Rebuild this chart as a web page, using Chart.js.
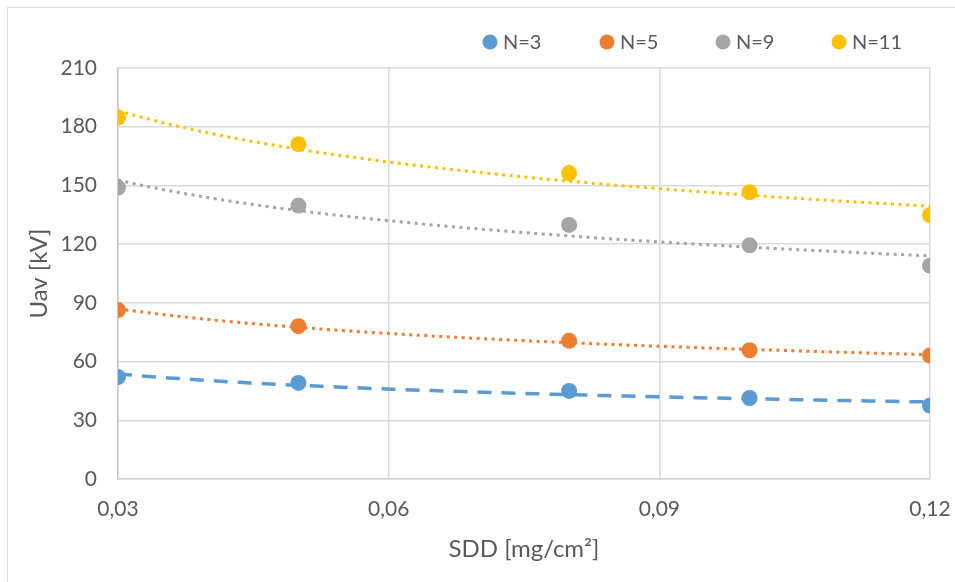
<!DOCTYPE html>
<html>
<head>
<meta charset="utf-8">
<script src="https://cdn.jsdelivr.net/npm/chart.js@4.4.1/dist/chart.umd.min.js"></script>
<style>
  html, body { margin: 0; padding: 0; background: #fff; }
  #wrap { width: 955px; height: 582px; }
</style>
</head>
<body>
<div id="wrap"><canvas id="chart" width="955" height="582"></canvas></div>
<script>
// values
const sdd = [0.03, 0.05, 0.08, 0.10, 0.12];
const uavN3 = [52.1, 49.1, 45.0, 41.4, 37.5];
const uavN5 = [86.3, 78.1, 70.6, 65.8, 63.1];
const uavN9 = [148.9, 139.7, 129.8, 119.4, 109.0];
const uavN11 = [184.7, 171.1, 156.3, 146.5, 134.8];
const seriesLabels = ['N=3', 'N=5', 'N=9', 'N=11'];
const xTicks = [0.03, 0.06, 0.09, 0.12];
const yTicks = [0, 30, 60, 90, 120, 150, 180, 210];

const colors = ['#5B9BD5', '#ED7D31', '#A5A5A5', '#FFC000'];
const FONT = 'Lato, "Open Sans", sans-serif';
const TEXT = '#595959';

// power trendline y = a * x^b, fitted the same way Excel does (least squares on logs)
function powerTrend(xs, ys, steps) {
  const lx = xs.map(Math.log), ly = ys.map(Math.log);
  const n = xs.length;
  const mx = lx.reduce((s, v) => s + v, 0) / n;
  const my = ly.reduce((s, v) => s + v, 0) / n;
  let sxy = 0, sxx = 0;
  for (let i = 0; i < n; i++) {
    sxy += (lx[i] - mx) * (ly[i] - my);
    sxx += (lx[i] - mx) * (lx[i] - mx);
  }
  const b = sxy / sxx;
  const a = Math.exp(my - b * mx);
  const x0 = Math.min(...xs), x1 = Math.max(...xs);
  const pts = [];
  for (let i = 0; i <= steps; i++) {
    const x = x0 + (x1 - x0) * i / steps;
    pts.push({ x: x, y: a * Math.pow(x, b) });
  }
  return pts;
}

const allSeries = [uavN3, uavN5, uavN9, uavN11];
const datasets = [];
allSeries.forEach((ys, i) => {
  datasets.push({
    label: seriesLabels[i],
    data: sdd.map((x, j) => ({ x: x, y: ys[j] })),
    showLine: false,
    pointRadius: 8,
    pointBackgroundColor: colors[i],
    pointBorderWidth: 0,
    order: 1
  });
});
allSeries.forEach((ys, i) => {
  datasets.push({
    label: 'trend ' + seriesLabels[i],
    data: powerTrend(sdd, ys, 80),
    showLine: true,
    pointRadius: 0,
    borderColor: colors[i],
    borderWidth: i === 0 ? 3.5 : 3,
    borderDash: i === 0 ? [14, 10] : [3, 4.5],
    borderCapStyle: 'butt',
    tension: 0,
    order: 2
  });
});

const frame = {
  id: 'frame',
  beforeDraw(chart) {
    const ctx = chart.ctx;
    ctx.save();
    ctx.fillStyle = '#fff';
    ctx.fillRect(0, 0, chart.width, chart.height);
    ctx.strokeStyle = '#D9D9D9';
    ctx.lineWidth = 1;
    ctx.strokeRect(7.5, 7.5, chart.width + 20, chart.height + 20);
    ctx.restore();
  }
};

// legend drawn by hand so the items sit where Excel put them
const legendPos = [490, 607, 723, 839];
const topLegend = {
  id: 'topLegend',
  afterDraw(chart) {
    const ctx = chart.ctx;
    ctx.save();
    ctx.font = '20px ' + FONT;
    ctx.textBaseline = 'middle';
    ctx.textAlign = 'left';
    seriesLabels.forEach((lbl, i) => {
      ctx.fillStyle = colors[i];
      ctx.beginPath();
      ctx.arc(legendPos[i], 42, 7.5, 0, Math.PI * 2);
      ctx.fill();
      ctx.fillStyle = TEXT;
      ctx.fillText(lbl, legendPos[i] + 13, 43);
    });
    ctx.restore();
  }
};

new Chart(document.getElementById('chart'), {
  type: 'scatter',
  data: { datasets: datasets },
  plugins: [frame, topLegend],
  options: {
    responsive: false,
    animation: false,
    devicePixelRatio: 1,
    layout: { padding: { top: 68, right: 25, bottom: 14, left: 0 } },
    plugins: {
      legend: { display: false },
      tooltip: { enabled: false }
    },
    scales: {
      x: {
        type: 'linear',
        min: 0.03,
        max: 0.12,
        afterBuildTicks: s => { s.ticks = xTicks.map(v => ({ value: v })); },
        afterFit: s => {
          s.height = 89;
          s.paddingLeft = 0;
          s.paddingRight = 0;
        },
        ticks: {
          color: TEXT,
          font: { family: FONT, size: 21 },
          padding: 18,
          callback: v => v.toFixed(2).replace('.', ',')
        },
        grid: { color: '#D9D9D9', lineWidth: 1.5, drawTicks: false },
        border: { color: '#D0D0D0', width: 1.5 },
        title: {
          display: true,
          text: 'SDD [mg/cm²]',
          color: TEXT,
          font: { family: FONT, size: 24 },
          padding: { top: 4, bottom: 4 }
        }
      },
      y: {
        min: 0,
        max: 210,
        afterBuildTicks: s => { s.ticks = yTicks.map(v => ({ value: v })); },
        afterFit: s => {
          s.width = 118;
          s.paddingTop = 0;
          s.paddingBottom = 0;
        },
        ticks: {
          color: TEXT,
          font: { family: FONT, size: 21 },
          padding: 21
        },
        grid: { color: '#D9D9D9', lineWidth: 1.5, drawTicks: false },
        border: { color: '#C8C8C8', width: 1.5 },
        title: {
          display: true,
          text: 'Uav [kV]',
          color: TEXT,
          font: { family: FONT, size: 24 },
          padding: { top: 25, bottom: 0 }
        }
      }
    }
  }
});
</script>
</body>
</html>
